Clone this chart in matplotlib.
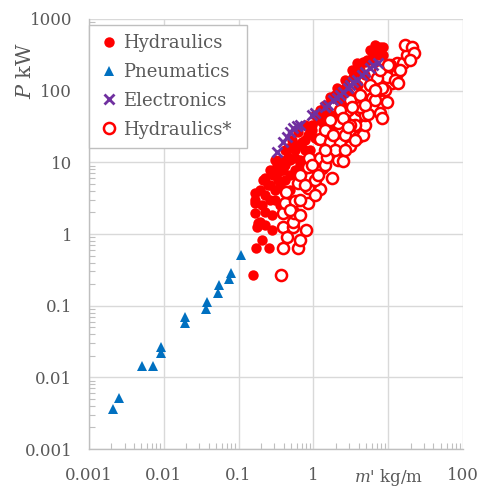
import matplotlib
matplotlib.use("Agg")
import matplotlib.pyplot as plt
from matplotlib.ticker import FixedLocator, FixedFormatter, LogLocator, NullFormatter

# --- Daten (m' in kg/m, P in kW) ---
hyd_m = [0.155, 0.172, 0.255, 0.175, 0.277, 0.193, 0.166, 0.225, 0.166, 0.166,
         0.225, 0.214, 0.291, 0.323, 0.357, 0.462, 0.183, 0.225, 0.34, 0.396,
         0.568, 0.462, 0.698, 0.855, 0.95, 1.29, 1.43, 1.05, 6.66, 7.8,
         5.7, 4.65, 3.8, 3.25, 2.64, 2.05, 1.67, 1.36, 1.36, 1.5,
         3.41, 5.16, 0.662, 0.772, 0.486, 0.357, 0.568, 0.90, 1.15, 1.67,
         2.27, 3.09, 3.95, 4.9, 2.64, 1.95, 0.662, 0.418, 0.307, 0.263,
         0.357, 0.206, 0.486, 0.28, 0.206, 5.7, 7.3, 2.27, 3.6, 4.2,
         1.22, 0.96, 0.59, 0.39, 0.25,
         0.263, 0.307, 0.417, 0.518, 0.622, 0.772, 1.05, 1.43, 1.95, 2.64,
         3.6, 4.9, 6.07, 8.5, 8.5, 0.486, 0.38, 0.336, 0.263, 0.193,
         0.167, 0.307, 0.225, 0.662, 0.90, 1.15, 1.57, 2.13, 2.9, 0.772,
         0.568, 0.418]
hyd_p = [0.268, 0.63, 0.63, 1.26, 1.14, 1.49, 1.94, 2.05, 2.68, 3.7,
         3.5, 5.67, 6.66, 9.2, 10.8, 12.0, 1.41, 6.0, 7.4, 10.2,
         11.4, 15.7, 19.4, 24.0, 33.0, 45.8, 35.0, 21.6, 434, 410,
         369, 254, 241, 194, 141, 108, 82, 53.7, 35.0, 43.3,
         157, 268, 10.8, 14.9, 6.66, 4.83, 7.82, 14.9, 20.5, 33.0,
         53.7, 87, 120, 165, 74, 45.8, 9.2, 5.67, 4.11, 2.98,
         2.54, 2.54, 4.11, 1.84, 0.82, 268, 315, 87, 141, 194,
         53.7, 28.3, 17.5, 7.8, 4.83,
         7.82, 10.8, 14.9, 20.5, 26.5, 33.0, 45.8, 63.0, 87.0, 109,
         165, 251, 346, 407, 315, 10.8, 7.82, 5.67, 4.83, 4.11,
         2.98, 2.98, 1.34, 17.5, 28.3, 39.0, 50.3, 74.0, 96.0, 20.5,
         14.9, 9.2]

pneu_m = [0.00207, 0.0025, 0.0052, 0.00724, 0.0091, 0.0091, 0.0194, 0.0194,
          0.0375, 0.0365, 0.0535, 0.0555, 0.0738, 0.078, 0.1067]
pneu_p = [0.00358, 0.0051, 0.0144, 0.0144, 0.0268, 0.0221, 0.0702, 0.0568,
          0.1137, 0.0891, 0.152, 0.192, 0.233, 0.283, 0.509]

elec_m = [0.323, 0.396, 0.44, 0.486, 0.538, 0.598, 0.662, 0.95, 1.05, 1.43,
          1.58, 1.85, 2.05, 2.27, 2.51, 2.87, 3.09, 3.41, 3.8, 4.42,
          4.9, 5.7, 6.32, 7.38]
elec_p = [14.1, 19.4, 22.4, 26.8, 29.8, 32.1, 33.0, 45.8, 48.3, 59.7,
          63, 74, 78, 87, 96.7, 108, 120, 133, 141, 165,
          184, 205, 228, 241]

hyd2_m = [0.365, 0.396, 0.617, 0.80, 0.396, 0.539, 0.529, 0.396, 0.555, 0.417,
          0.568, 0.855, 0.43, 0.628, 0.855, 1.22, 0.90, 1.29, 1.76, 0.855,
          0.88, 1.22, 1.58, 2.15, 2.51, 1.22, 1.67, 2.22, 2.27, 3.09,
          2.15, 2.87, 3.6, 4.2, 2.93, 3.98, 4.64, 4.9, 6.07, 6.0,
          7.8, 7.8, 8.2, 9.5, 11.1, 13.0, 15.9, 17.7, 16.8, 20.6,
          21.7, 13.0, 9.5, 7.0, 0.662, 1.05, 1.43, 1.95, 2.64, 3.6,
          4.9, 6.7, 9.1, 12.3, 1.05, 0.486, 0.662, 0.444, 0.662, 1.67,
          2.27, 3.09, 4.2, 5.7, 7.8, 10.6, 3.09, 1.43, 10.0, 13.6,
          8.2, 5.4, 4.2, 3.25, 2.51, 1.5, 2.87,
          0.662, 0.772, 1.15, 0.96, 1.43, 1.83, 2.64, 3.6, 4.9, 6.7,
          14.4, 19.6]
hyd2_p = [0.268, 0.63, 0.63, 1.14, 1.26, 1.26, 1.49, 1.98, 1.98, 2.68,
          2.92, 2.73, 3.89, 5.1, 4.34, 4.2, 6.3, 8.26, 5.98, 8.7,
          11.6, 11.4, 14.9, 10.8, 10.5, 21.0, 19.4, 26.8, 18.4, 16.9,
          35.0, 41.0, 43.3, 53.7, 53.7, 22.8, 24.0, 33.0, 59.0, 78.0,
          102, 48.3, 41.0, 70.0, 127, 241, 241, 315, 434, 410,
          332, 175, 157, 149, 6.7, 5.67, 9.2, 14.9, 24.0, 33.0,
          45.8, 74.0, 102, 141, 3.5, 2.16, 1.84, 0.91, 0.82, 39.0,
          53.7, 74.0, 87.0, 120, 194, 228, 33.0, 28.3, 228, 127,
          108, 48.0, 60.0, 60.0, 41.0, 12.0, 31.4,
          2.98, 4.83, 6.66, 9.2, 14.9, 24.0, 14.9, 20.5, 63.0, 102,
          194, 268]

GREY = "#595959"
plt.rcParams["font.family"] = ["DejaVu Serif"]
plt.rcParams["mathtext.fontset"] = "dejavuserif"

fig = plt.figure(figsize=(4.83, 4.87), dpi=100)
ax = fig.add_axes([0.184, 0.078, 0.775, 0.883])

ax.plot(hyd_m, hyd_p, "o", color="#ff0000", ms=7.5, mew=0, label="Hydraulics", zorder=3)
ax.plot(pneu_m, pneu_p, "^", color="#0070c0", ms=7.5, mew=0, label="Pneumatics", zorder=3)
ax.plot(elec_m, elec_p, "x", color="#7030a0", ms=7, mew=2.0, label="Electronics", zorder=6)
ax.plot(hyd2_m, hyd2_p, "o", mfc="white", mec="#ff0000", ms=8, mew=1.8,
        label="Hydraulics*", zorder=5)

ax.set_xscale("log")
ax.set_yscale("log")
ax.set_xlim(0.001, 100)
ax.set_ylim(0.001, 1000)

# Haupt-Ticks nur als Gitter, Minor-Ticks nach innen
ax.xaxis.set_major_locator(FixedLocator([0.001, 0.01, 0.1, 1, 10, 100]))
ax.xaxis.set_major_formatter(FixedFormatter(["0.001", "0.01", "0.1", "1", "$m$' kg/m", "100"]))
ax.yaxis.set_major_locator(FixedLocator([0.001, 0.01, 0.1, 1, 10, 100, 1000]))
ax.yaxis.set_major_formatter(FixedFormatter(["0.001", "0.01", "0.1", "1", "10", "100", "1000"]))
ax.xaxis.set_minor_locator(LogLocator(base=10, subs=range(2, 10), numticks=20))
ax.yaxis.set_minor_locator(LogLocator(base=10, subs=range(2, 10), numticks=20))
ax.xaxis.set_minor_formatter(NullFormatter())
ax.yaxis.set_minor_formatter(NullFormatter())

ax.tick_params(which="major", length=0, labelsize=12, labelcolor=GREY)
ax.tick_params(axis="y", which="major", pad=12)
ax.tick_params(axis="x", which="major", pad=13)
ax.tick_params(which="minor", direction="in", length=4, width=0.8, color="#bfbfbf")

ax.grid(True, which="major", color="#d9d9d9", lw=1.0)
ax.set_axisbelow(True)
for s in ["top", "right"]:
    ax.spines[s].set_visible(False)
for s in ["left", "bottom"]:
    ax.spines[s].set_color("#bfbfbf")
    ax.spines[s].set_linewidth(1.0)

ax.set_ylabel("$P$ kW", fontsize=15, color=GREY)
ax.yaxis.set_label_coords(-0.144, 0.88)

# Legende: Rahmen etwas breiter als der Text (wie im Original)
leg = ax.legend(loc="upper left", bbox_to_anchor=(0.0, 0.72, 0.4225, 0.266), mode="expand",
                borderaxespad=0.0, fontsize=13, frameon=True, fancybox=False,
                handlelength=1.2, handletextpad=0.2, borderpad=0.5, labelspacing=0.6,
                framealpha=1.0)
leg.set_zorder(10)
leg.get_frame().set_edgecolor("#bfbfbf")
leg.get_frame().set_linewidth(1.0)
for t in leg.get_texts():
    t.set_color(GREY)

plt.savefig("out.png", dpi=100)
